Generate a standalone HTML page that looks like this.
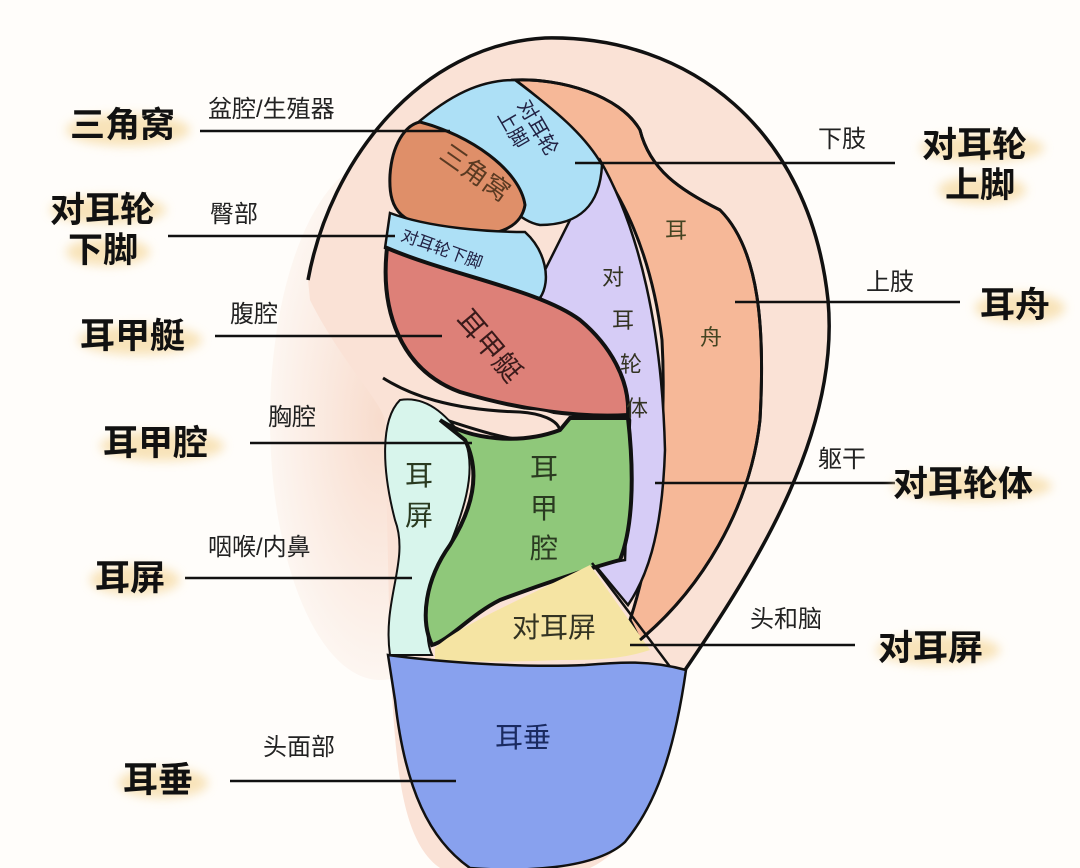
<!DOCTYPE html>
<html><head><meta charset="utf-8"><style>
html,body{margin:0;padding:0;background:#fffdfa;}
svg{display:block}
text{font-family:"Liberation Sans","Noto Sans CJK SC",sans-serif;}
.b{font-weight:bold;font-size:35px;fill:#111;}
.s{font-size:24px;fill:#222;}
</style></head><body>
<svg width="1080" height="868" viewBox="0 0 1080 868" xmlns="http://www.w3.org/2000/svg">
<defs>
<filter id="bl" x="-30%" y="-80%" width="160%" height="260%"><feGaussianBlur stdDeviation="5"/></filter>
<radialGradient id="sk" cx="0.5" cy="0.5" r="0.5"><stop offset="0" stop-color="#f8dccd"/><stop offset="1" stop-color="#fdf6f1"/></radialGradient>
</defs>
<ellipse cx="380" cy="420" rx="110" ry="260" fill="url(#sk)"/>
<path d="M308,280 C330,160 420,45 545,38 C690,35 810,130 828,300 C840,430 760,560 685,670 C670,740 650,840 590,868 L440,868 C400,840 395,760 390,655 L385,420 C380,400 340,360 310,300 Z" fill="#fae2d6"/>
<path d="M515,80 C560,78 620,95 640,130 C650,170 680,190 720,210 C760,250 765,330 760,420 C750,510 700,590 640,640 L630,620 C650,560 668,450 662,340 C650,240 610,150 515,80 Z" fill="#f6b898" stroke="#111" stroke-width="3"/>
<path d="M600,160 C640,230 662,330 665,450 C662,540 645,580 628,605 L595,565 L625,560 L630,420 C620,380 590,350 540,300 L545,270 C560,240 580,200 600,160 Z" fill="#d6ccf6" stroke="#111" stroke-width="2.5"/>
<path d="M415,125 C450,95 480,80 515,80 C555,110 585,135 602,165 C600,205 580,225 540,225 C510,220 490,180 455,140 Z" fill="#ade0f6" stroke="#111" stroke-width="2.5"/>
<path d="M420,122 C470,135 520,170 525,205 C520,235 480,240 440,230 C405,222 388,215 390,175 C392,145 405,125 420,122 Z" fill="#df8f69" stroke="#111" stroke-width="3"/>
<path d="M390,213 C430,228 490,232 525,232 C545,250 552,280 540,298 C480,290 420,265 385,248 Z" fill="#ade0f6" stroke="#111" stroke-width="2.5"/>
<path d="M387,248 C450,275 540,290 580,320 C610,345 630,380 628,415 C580,418 520,410 460,392 C400,370 380,310 387,248 Z" fill="#dd8078" stroke="#111" stroke-width="4"/>
<path d="M380,380 C420,400 470,405 530,410 C570,412 575,430 555,440 C520,445 470,430 420,405 Z" fill="#fae2d6"/>
<path d="M383,378 C410,395 450,410 520,412 C565,415 572,440 540,442 C505,440 470,428 440,418" fill="none" stroke="#111" stroke-width="3"/>
<path d="M400,400 C430,395 450,420 465,440 C480,480 455,530 440,570 C425,610 425,640 432,655 L390,655 C382,600 410,560 395,520 C382,470 380,420 400,400 Z" fill="#d8f5ec" stroke="#111" stroke-width="2"/>
<path d="M440,420 C470,440 520,445 560,430 L570,418 L628,418 C635,480 632,530 620,560 C590,568 540,585 500,600 C470,615 450,640 432,645 C420,620 425,580 450,545 C475,505 480,470 465,440 Z" fill="#8fc87a" stroke="#111" stroke-width="4"/>
<path d="M435,648 C460,625 520,600 590,565 L650,650 C620,660 590,660 560,660 C520,662 470,662 435,660 Z" fill="#f5e4a3"/>
<line x1="592" y1="563" x2="674" y2="672" stroke="#111" stroke-width="2.5"/>
<path d="M388,655 C440,662 520,668 585,665 C620,662 650,660 686,670 C676,740 660,800 625,842 C595,870 520,872 470,868 C430,840 405,790 395,700 Z" fill="#88a1ee" stroke="#111" stroke-width="2.5"/>
<path d="M308,280 C330,160 420,45 545,38 C690,35 810,130 828,300 C840,430 760,560 685,670" fill="none" stroke="#111" stroke-width="3.5"/>
<path d="M515,80 C560,78 620,95 640,130 C650,170 680,190 720,210 C760,250 765,330 760,420 C750,510 700,590 640,640" fill="none" stroke="#111" stroke-width="3"/>
<text x="470" y="180" transform="rotate(35 470 180)" font-size="26" fill="#5a3a22" text-anchor="middle">三角窝</text>
<g font-size="20" fill="#224">
<text x="517" y="105" transform="rotate(60 517 105)">对耳轮</text>
<text x="497" y="115" transform="rotate(60 497 115)">上脚</text>
<text x="400" y="240" transform="rotate(20 400 240)" font-size="17">对耳轮下脚</text>
</g>
<text x="455" y="320" transform="rotate(50 455 320)" font-size="28" fill="#3a1a1a">耳甲艇</text>
<g font-size="22" fill="#332">
<text x="602" y="285">对</text><text x="612" y="328">耳</text><text x="620" y="372">轮</text><text x="626" y="416">体</text>
<text x="665" y="238" fill="#442">耳</text><text x="700" y="345" fill="#442">舟</text>
</g>
<g font-size="28" fill="#2a3a20">
<text x="405" y="485">耳</text><text x="405" y="525">屏</text>
<text x="530" y="478">耳</text><text x="530" y="518">甲</text><text x="530" y="558">腔</text>
</g>
<text x="512" y="637" font-size="28" fill="#332">对耳屏</text>
<text x="495" y="747" font-size="28" fill="#1a2a60">耳垂</text>
<g stroke="#111" stroke-width="2.5">
<line x1="200" y1="131" x2="450" y2="131"/>
<line x1="168" y1="236" x2="395" y2="236"/>
<line x1="215" y1="336" x2="442" y2="336"/>
<line x1="250" y1="443" x2="472" y2="443"/>
<line x1="185" y1="578" x2="412" y2="578"/>
<line x1="230" y1="781" x2="456" y2="781"/>
<line x1="575" y1="163" x2="895" y2="163"/>
<line x1="735" y1="302" x2="960" y2="302"/>
<line x1="655" y1="483" x2="895" y2="483"/>
<line x1="630" y1="645" x2="855" y2="645"/>
</g>
<g class="s">
<text x="208" y="117">盆腔/生殖器</text>
<text x="210" y="222">臀部</text>
<text x="230" y="322">腹腔</text>
<text x="268" y="425">胸腔</text>
<text x="208" y="555">咽喉/内鼻</text>
<text x="263" y="755">头面部</text>
<text x="818" y="147">下肢</text>
<text x="866" y="290">上肢</text>
<text x="818" y="467">躯干</text>
<text x="750" y="627">头和脑</text>
</g>
<g fill="#f7dfae" opacity="0.85" filter="url(#bl)">
<ellipse cx="128" cy="130" rx="62" ry="16"/>
<ellipse cx="108" cy="210" rx="58" ry="14"/>
<ellipse cx="108" cy="252" rx="42" ry="14"/>
<ellipse cx="140" cy="340" rx="62" ry="15"/>
<ellipse cx="162" cy="446" rx="62" ry="15"/>
<ellipse cx="135" cy="580" rx="45" ry="15"/>
<ellipse cx="163" cy="783" rx="45" ry="15"/>
<ellipse cx="982" cy="148" rx="62" ry="14"/>
<ellipse cx="982" cy="190" rx="44" ry="14"/>
<ellipse cx="1020" cy="308" rx="45" ry="15"/>
<ellipse cx="972" cy="486" rx="80" ry="15"/>
<ellipse cx="938" cy="650" rx="62" ry="15"/>
</g>
<g class="b">
<text x="70" y="137">三角窝</text>
<text x="50" y="222">对耳轮</text>
<text x="68" y="262">下脚</text>
<text x="80" y="348">耳甲艇</text>
<text x="103" y="455">耳甲腔</text>
<text x="95" y="590">耳屏</text>
<text x="123" y="792">耳垂</text>
<text x="922" y="157">对耳轮</text>
<text x="945" y="197">上脚</text>
<text x="980" y="317">耳舟</text>
<text x="893" y="496">对耳轮体</text>
<text x="878" y="660">对耳屏</text>
</g>
</svg>
</body></html>
